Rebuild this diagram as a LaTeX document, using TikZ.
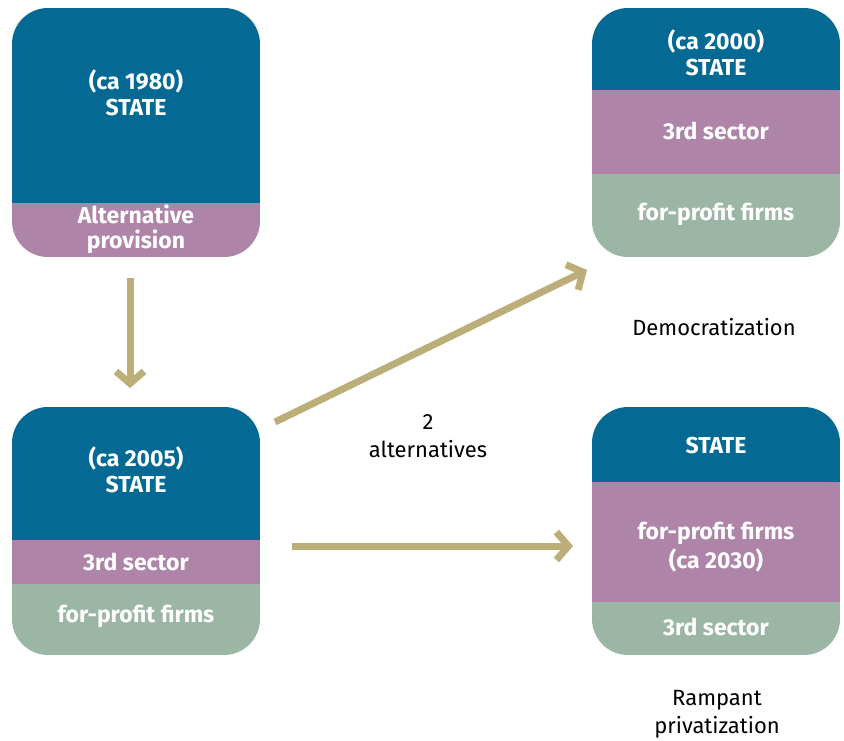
\documentclass[tikz,border=0pt]{standalone}
\usepackage{fontspec}
\setmainfont{Fira Sans}
\usetikzlibrary{arrows.meta}
\definecolor{stblue}{HTML}{046A93}
\definecolor{stpurple}{HTML}{AE84A8}
\definecolor{stgreen}{HTML}{9CB6A6}
\definecolor{stgold}{HTML}{BCAE78}
\tikzset{
  boxtxt/.style={text=white, font=\fontsize{23}{26}\selectfont\bfseries, align=center, inner sep=0pt},
  lbl/.style={text=black, font=\fontsize{22}{28}\selectfont, align=center, inner sep=0pt},
  flow/.style={draw=stgold, line width=7pt, -{Straight Barb[length=12pt,width=28pt,line width=7pt]}},
  frame/.style={rounded corners=36pt},
}
\begin{document}
\begin{tikzpicture}[x=1pt,y=-1pt]
\useasboundingbox (0,0) rectangle (844,740);
% Box 1
\begin{scope}
\clip[frame] (12,8) rectangle (260,257);
\fill[stblue] (12,8) rectangle (260,203);
\fill[stpurple] (12,203) rectangle (260,257);
\end{scope}
\node[boxtxt] (b1s) at (136,93) {(ca 1980)\\STATE};
\node[boxtxt, font=\fontsize{23}{25}\selectfont\bfseries] (b1a) at (136,229) {Alternative\\provision};
% Box 2
\begin{scope}
\clip[frame] (592,8) rectangle (840,257);
\fill[stblue] (592,8) rectangle (840,90);
\fill[stpurple] (592,90) rectangle (840,174);
\fill[stgreen] (592,174) rectangle (840,257);
\end{scope}
\node[boxtxt] (b2s) at (716,53) {(ca 2000)\\STATE};
\node[boxtxt] (b2t) at (716,131) {3rd sector};
\node[boxtxt] (b2f) at (716,214) {for-profit firms};
% Box 3
\begin{scope}
\clip[frame] (12,407) rectangle (260,655);
\fill[stblue] (12,407) rectangle (260,540);
\fill[stpurple] (12,540) rectangle (260,584);
\fill[stgreen] (12,584) rectangle (260,655);
\end{scope}
\node[boxtxt] (b3s) at (136,470) {(ca 2005)\\STATE};
\node[boxtxt] (b3t) at (136,562) {3rd sector};
\node[boxtxt] (b3f) at (136,616) {for-profit firms};
% Box 4
\begin{scope}
\clip[frame] (592,407) rectangle (840,655);
\fill[stblue] (592,407) rectangle (840,482);
\fill[stpurple] (592,482) rectangle (840,602);
\fill[stgreen] (592,602) rectangle (840,655);
\end{scope}
\node[boxtxt] (b4s) at (716,446) {STATE};
\node[boxtxt, font=\fontsize{23}{29}\selectfont\bfseries] (b4f) at (716,547) {for-profit firms\\(ca 2030)};
\node[boxtxt] (b4t) at (716,627) {3rd sector};
% Labels
\node[lbl] (dem) at (714,327) {Democratization};
\node[lbl] (alt) at (428,436) {2\\alternatives};
\node[lbl] (ramp) at (717,714) {Rampant\\privatization};
% Arrow endpoints
\coordinate (a1s) at (130,278);
\coordinate (a1e) at (130,388);
\coordinate (a2s) at (275,422);
\coordinate (a2e) at (587,270);
\coordinate (a3s) at (292,546);
\coordinate (a3e) at (573,546);
\draw[flow] (a1s) -- (a1e);
\draw[flow] (a2s) -- (a2e);
\draw[flow] (a3s) -- (a3e);
\end{tikzpicture}
\end{document}
